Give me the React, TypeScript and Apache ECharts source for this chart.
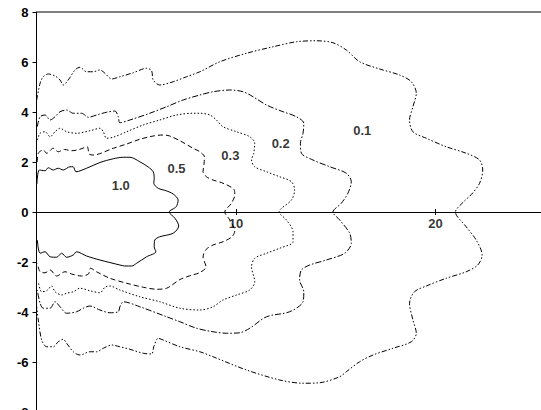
import React, { useEffect, useRef } from "react";
import * as echarts from "echarts";

const contour10: [number, number][] = [
  [0.02, 1.12], [0.14, 1.68], [0.43, 1.65], [0.59, 1.77], [0.84, 1.68], [1.09, 1.75], [1.34, 1.68],
  [1.68, 1.81], [1.84, 1.81], [1.98, 1.61], [2.51, 1.75], [3.18, 1.98], [3.85, 2.13], [4.35, 2.19],
  [4.68, 2.19], [5.18, 2.01], [5.6, 1.8], [5.85, 1.61], [5.9, 1.35], [5.88, 1.15], [6.1, 0.95],
  [6.5, 0.85], [6.85, 0.72], [7.1, 0.48], [7.0, 0.21], [6.65, 0], [6.94, -0.25], [7.13, -0.56],
  [6.85, -0.85], [6.18, -0.99], [5.93, -1.12], [5.9, -1.39], [5.98, -1.59], [5.52, -1.79],
  [5.02, -2.05], [4.77, -2.16], [4.43, -2.16], [4.18, -2.12], [3.18, -1.92], [2.51, -1.76],
  [2.01, -1.59], [1.84, -1.72], [1.51, -1.81], [1.26, -1.65], [1.01, -1.81], [0.68, -1.79],
  [0.43, -1.59], [0.18, -1.65], [0.04, -1.12],
];

const contour05: [number, number][] = [
  [0.04, 2.0], [0.09, 2.35], [0.34, 2.48], [0.51, 2.35], [0.84, 2.55], [1.09, 2.41], [1.4, 2.5],
  [1.76, 2.45], [2.18, 2.51], [2.54, 2.61], [2.64, 2.32], [2.84, 2.28], [3.85, 2.55], [4.52, 2.72],
  [5.18, 2.91], [5.85, 3.04], [6.35, 3.08], [6.68, 3.04], [7.19, 2.85], [7.85, 2.55], [8.19, 2.41],
  [8.42, 2.2], [8.4, 1.95], [8.35, 1.61], [8.52, 1.41], [8.85, 1.28], [9.35, 1.15], [9.9, 0.9],
  [9.94, 0.68], [9.77, 0.35], [9.44, 0], [9.69, -0.32], [9.94, -0.75], [9.8, -0.99], [9.35, -1.19],
  [8.85, -1.32], [8.5, -1.5], [8.35, -1.8], [8.5, -2.2], [8.19, -2.42], [7.69, -2.55], [7.19, -2.7],
  [6.52, -3.05], [6.02, -3.09], [5.35, -3.01], [4.52, -2.85], [3.68, -2.65], [3.01, -2.39],
  [2.71, -2.25], [2.6, -2.48], [2.26, -2.56], [1.76, -2.48], [1.43, -2.39], [1.01, -2.56],
  [0.68, -2.32], [0.43, -2.43], [0.18, -2.39], [0.04, -2.05],
];

const contour03: [number, number][] = [
  [0.04, 2.88], [0.18, 3.15], [0.43, 3.21], [0.68, 3.01], [0.93, 3.21], [1.18, 3.35], [1.51, 3.21],
  [2.01, 3.15], [2.68, 3.25], [3.18, 3.35], [3.35, 3.21], [3.51, 2.95], [3.85, 2.99], [4.52, 3.21],
  [5.35, 3.48], [6.18, 3.68], [7.02, 3.88], [7.85, 3.95], [8.19, 3.95], [8.69, 3.88], [9.02, 3.68],
  [9.35, 3.41], [10.03, 3.21], [10.69, 3.01], [10.94, 2.75], [10.89, 2.35], [10.78, 2.08],
  [10.94, 1.81], [11.53, 1.61], [12.19, 1.41], [12.78, 1.21], [12.94, 0.88], [12.78, 0.48],
  [12.16, 0], [12.53, -0.32], [12.86, -0.79], [12.86, -1.19], [12.19, -1.45], [11.53, -1.65],
  [10.94, -1.85], [10.78, -2.19], [10.94, -2.79], [10.69, -3.12], [10.03, -3.32], [9.35, -3.52],
  [8.85, -3.79], [8.19, -3.92], [7.19, -3.85], [6.18, -3.59], [5.18, -3.39], [4.18, -3.12],
  [3.68, -2.96], [3.43, -3.01], [3.18, -3.23], [2.68, -3.15], [2.18, -3.05], [1.84, -3.19],
  [1.51, -3.25], [1.26, -3.32], [0.93, -3.19], [0.76, -2.96], [0.51, -3.15], [0.26, -3.19],
  [0.09, -2.79],
];

const contour02: [number, number][] = [
  [0.04, 3.41], [0.18, 3.81], [0.43, 3.88], [0.68, 3.68], [0.93, 3.81], [1.18, 4.01], [1.51, 4.08],
  [1.84, 3.95], [2.26, 3.95], [2.6, 3.79], [3.01, 3.88], [3.51, 3.99], [3.93, 4.04], [4.1, 3.81],
  [4.18, 3.57], [4.68, 3.68], [5.68, 3.95], [6.52, 4.21], [7.35, 4.48], [8.19, 4.68], [8.85, 4.81],
  [9.69, 4.88], [10.36, 4.81], [10.86, 4.61], [11.53, 4.28], [12.36, 4.01], [13.03, 3.81],
  [13.4, 3.55], [13.36, 3.15], [13.23, 2.75], [13.28, 2.35], [13.86, 2.08], [14.7, 1.81],
  [15.53, 1.55], [15.78, 1.21], [15.61, 0.75], [15.28, 0.35], [14.86, 0], [15.2, -0.32],
  [15.7, -0.85], [15.78, -1.25], [15.45, -1.65], [14.53, -1.92], [13.7, -2.12], [13.28, -2.32],
  [13.19, -2.72], [13.4, -3.19], [13.36, -3.59], [12.69, -3.99], [11.53, -4.19], [10.69, -4.65],
  [10.19, -4.83], [9.52, -4.85], [8.85, -4.79], [8.02, -4.65], [7.19, -4.39], [6.52, -4.19],
  [5.18, -3.79], [4.35, -3.59], [4.18, -3.79], [4.1, -3.99], [3.68, -4.03], [3.18, -3.92],
  [2.68, -3.76], [2.34, -3.85], [2.01, -3.99], [1.51, -4.05], [1.18, -3.79], [0.93, -3.59],
  [0.68, -3.85], [0.34, -3.85], [0.18, -3.65], [0.04, -3.12],
];

const contour01: [number, number][] = [
  [0.01, 4.48], [0.18, 5.15], [0.34, 5.41], [0.59, 5.52], [0.93, 5.44], [1.18, 5.28], [1.34, 5.08],
  [1.59, 5.28], [1.93, 5.68], [2.18, 5.79], [2.51, 5.61], [2.84, 5.61], [3.18, 5.68], [3.43, 5.55],
  [3.77, 5.32], [4.18, 5.41], [4.85, 5.57], [5.52, 5.75], [5.77, 5.65], [5.85, 5.28], [6.18, 5.08],
  [6.85, 5.21], [7.52, 5.41], [8.19, 5.61], [9.19, 6.01], [10.53, 6.35], [11.86, 6.61],
  [13.03, 6.81], [14.03, 6.85], [14.86, 6.77], [15.53, 6.48], [16.2, 6.01], [17.2, 5.72],
  [18.2, 5.48], [18.79, 5.21], [19.04, 4.75], [18.87, 4.21], [18.7, 3.68], [18.87, 3.21],
  [19.54, 2.95], [20.54, 2.61], [21.54, 2.35], [22.21, 2.08], [22.37, 1.68], [22.21, 1.15],
  [21.8, 0.7], [21.4, 0.4], [21.0, 0], [21.54, -0.59], [22.04, -1.12], [22.34, -1.72],
  [22.12, -2.12], [21.54, -2.39], [20.54, -2.65], [19.54, -2.96], [18.95, -3.19], [18.7, -3.65],
  [18.87, -4.32], [19.04, -4.85], [18.79, -5.19], [17.87, -5.45], [16.87, -5.72], [16.2, -5.99],
  [15.53, -6.39], [15.2, -6.59], [14.2, -6.83], [13.36, -6.85], [12.19, -6.72], [10.53, -6.32],
  [8.85, -5.79], [8.19, -5.59], [7.19, -5.39], [6.35, -5.12], [6.1, -5.05], [5.88, -5.39],
  [5.77, -5.68], [5.35, -5.65], [4.68, -5.49], [4.18, -5.39], [3.77, -5.32], [3.35, -5.45],
  [3.01, -5.59], [2.68, -5.59], [2.18, -5.72], [1.84, -5.59], [1.51, -5.25], [1.34, -5.09],
  [1.09, -5.19], [0.84, -5.39], [0.51, -5.39], [0.26, -5.12], [0.09, -4.32], [0.01, -3.79],
];

const contourLabels = ["1.0", "0.5", "0.3", "0.2", "0.1"];
const labelX = [4.22, 7.02, 9.72, 12.24, 16.33];
const labelY = [1.08, 1.75, 2.25, 2.75, 3.28];

const xTickLabels = [10, 20];

const FONT = "'Liberation Sans', Arial, Helvetica, sans-serif";

export default function App() {
  const ref = useRef<HTMLDivElement>(null);
  useEffect(() => {
    if (!ref.current) return;
    const chart = echarts.init(ref.current, undefined, { renderer: "svg" });
    const lineSeries = (data: [number, number][], type: any) => ({
      type: "line",
      data,
      xAxisIndex: 0,
      yAxisIndex: 0,
      showSymbol: false,
      symbol: "none",
      smooth: 0.3,
      silent: true,
      lineStyle: { color: "#000", width: 1, type },
    });
    const gridBox = {
      left: 36.5,
      top: 12,
      width: 538.6,
      height: 400,
      outerBoundsMode: "none",
      containLabel: false,
    };
    chart.setOption({
      animation: false,
      backgroundColor: "#fff",
      grid: [
        {
          ...gridBox,
          show: true,
          borderColor: "#000",
          borderWidth: 1,
          backgroundColor: "transparent",
        },
        { ...gridBox, show: false },
      ],
      xAxis: [
        {
          type: "value",
          gridIndex: 0,
          min: 0,
          max: 27,
          interval: 10,
          splitLine: { show: false },
          axisLine: { onZero: true, lineStyle: { color: "#000", width: 1 } },
          axisTick: { show: true, length: 3, lineStyle: { color: "#000" } },
          axisLabel: { show: false },
        },
        {
          type: "value",
          gridIndex: 1,
          min: 0,
          max: 27,
          interval: 10,
          splitLine: { show: false },
          axisLine: { onZero: true, lineStyle: { color: "#000", width: 1 } },
          axisTick: { show: true, inside: true, length: 3, lineStyle: { color: "#000" } },
          axisLabel: { show: false },
        },
      ],
      yAxis: [
        {
          type: "value",
          gridIndex: 0,
          min: -8,
          max: 8,
          interval: 2,
          splitLine: { show: false },
          axisLine: { show: true, onZero: false, lineStyle: { color: "#000", width: 1 } },
          axisTick: { show: true, length: 4, lineStyle: { color: "#000" } },
          axisLabel: {
            color: "#000",
            fontFamily: FONT,
            fontWeight: "bold",
            fontSize: 13,
            margin: 8,
          },
        },
        {
          type: "value",
          gridIndex: 1,
          min: -8,
          max: 8,
          interval: 2,
          show: false,
          splitLine: { show: false },
        },
      ],
      series: [
        lineSeries(contour10, "solid"),
        lineSeries(contour05, [5, 3]),
        lineSeries(contour03, [1.5, 2]),
        lineSeries(contour02, [6, 2, 1.5, 2]),
        lineSeries(contour01, [5, 2, 1.5, 2, 1.5, 2]),
        {
          type: "scatter",
          xAxisIndex: 0,
          yAxisIndex: 0,
          symbolSize: 1,
          silent: true,
          itemStyle: { color: "rgba(0,0,0,0)" },
          data: contourLabels.map((t, i) => ({ name: t, value: [labelX[i], labelY[i]] })),
          label: {
            show: true,
            position: "inside",
            formatter: (p: any) => p.name,
            color: "#000",
            fontFamily: FONT,
            fontWeight: "bold",
            fontSize: 13,
          },
        },
        {
          type: "scatter",
          xAxisIndex: 0,
          yAxisIndex: 0,
          symbolSize: 1,
          silent: true,
          itemStyle: { color: "rgba(0,0,0,0)" },
          data: xTickLabels.map((v) => ({ name: String(v), value: [v, 0] })),
          label: {
            show: true,
            position: "bottom",
            distance: 4,
            formatter: (p: any) => p.name,
            color: "#000",
            fontFamily: FONT,
            fontWeight: "bold",
            fontSize: 13,
          },
        },
      ],
    });
    return () => chart.dispose();
  }, []);
  return (
    <div
      ref={ref}
      style={{ position: "fixed", left: 0, top: 0, width: 541, height: 410, background: "#fff" }}
    />
  );
}
